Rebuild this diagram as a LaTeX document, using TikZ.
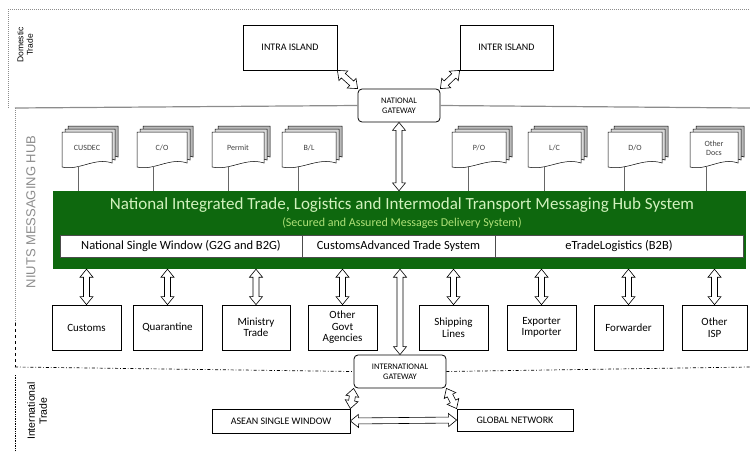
\documentclass[tikz,border=0pt]{standalone}
\usepackage{fontspec}
\setmainfont{Carlito}
\newfontfamily\arialfont{Liberation Sans}
\usetikzlibrary{calc}

\definecolor{hubgreen}{RGB}{14,104,14}
\definecolor{titlegreen}{RGB}{210,242,190}
\definecolor{subgreen}{RGB}{175,225,120}

% stacked document symbol: name, left x, right x, label
\newcommand\docstack[4]{%
  \foreach \o/\f in {6/gray!55,3/gray!30,0/white}{%
    \filldraw[fill=\f, draw=black, line width=0.5pt]
      ({#2+\o},{132-\o}) -- ({#3-6+\o},{132-\o}) -- ({#3-6+\o},{163-\o})
      .. controls ({#2+\o+0.65*(#3-6-#2)},{157-\o}) and ({#2+\o+0.35*(#3-6-#2)},{171-\o})
      .. ({#2+\o},{167-\o}) -- cycle;
  }
  \node[doctext] (#1) at ({(#2+#3-6)/2},148) {#4};
  \coordinate (#1-b) at ({#2+16},166);
}

% hollow two-headed block arrow between two points
\newcommand\harrow[2]{%
  \coordinate (ha-s) at (#1);
  \coordinate (ha-e) at (#2);
  \coordinate (ha-a) at ($(ha-s)!8pt!(ha-e)$);
  \coordinate (ha-b) at ($(ha-e)!8pt!(ha-s)$);
  \draw[harrowline] (ha-s) -- ($(ha-a)!6.5pt!90:(ha-e)$) -- ($(ha-a)!3pt!90:(ha-e)$)
    -- ($(ha-b)!3pt!-90:(ha-s)$) -- ($(ha-b)!6.5pt!-90:(ha-s)$) -- (ha-e)
    -- ($(ha-b)!6.5pt!90:(ha-s)$) -- ($(ha-b)!3pt!90:(ha-s)$)
    -- ($(ha-a)!3pt!-90:(ha-e)$) -- ($(ha-a)!6.5pt!-90:(ha-e)$) -- cycle;
}

\begin{document}
\begin{tikzpicture}[x=1pt,y=-1pt,
  box/.style={draw, line width=0.8pt, fill=white, inner sep=1pt, align=center, font=\fontsize{10}{11}\selectfont},
  gw/.style={box, rounded corners=4pt, font=\fontsize{8.5}{10}\selectfont},
  doctext/.style={align=center, inner sep=0pt, text=black!75, font=\fontsize{8}{9}\selectfont},
  seg/.style={draw=black!70, line width=0.5pt, fill=white, minimum height=22pt, inner sep=0pt, font=\fontsize{12.5}{13}\selectfont},
  harrowline/.style={draw=black, line width=0.6pt, fill=white, line join=miter},
  sidelabel/.style={rotate=90, align=center, font=\arialfont\fontsize{8.5}{9.5}\selectfont},
  feed/.style={draw=black!60, line width=0.5pt}
]
\useasboundingbox (0,0) rectangle (750,452);

% region borders
\draw[black!45, line width=1pt, densely dotted] (8,108) -- (8,10) -- (750,10);
\draw[black!45, line width=1pt, densely dotted] (15,108) -- (15,323);
\draw[black, line width=0.7pt, dashed] (15,323) -- (15,367);
\draw[black, line width=0.7pt, densely dotted] (15,375) -- (15,452);

% domestic trade
\node[sidelabel] (domlbl) at (25,45) {Domestic\\Trade};
\node[box, minimum width=94pt, minimum height=45pt] (intra) at (290,47.5) {INTRA ISLAND};
\node[box, minimum width=93pt, minimum height=45pt] (inter) at (506.5,47.5) {INTER ISLAND};
\node[gw, minimum width=82pt, minimum height=33pt] (natgw) at (399,105.5) {NATIONAL\\GATEWAY};
\draw[black!45, line width=1.2pt] (15,108) -- (natgw.west);
\draw[black!45, line width=1.2pt] (natgw.east) -- (750,108);
\harrow{intra.south east}{natgw.north west}
\harrow{inter.south west}{natgw.north east}

% messaging hub
\node[sidelabel, text=black!45, font=\arialfont\fontsize{13}{14}\selectfont] (hublbl) at (31,212) {NIUTS MESSAGING HUB};
\node[fill=hubgreen, minimum width=693pt, minimum height=78pt, inner sep=0pt] (hub) at (399.5,230) {};
\node[text=titlegreen, font=\fontsize{17}{18}\selectfont] (title) at (402,205)
  {National Integrated Trade, Logistics and Intermodal Transport Messaging Hub System};
\node[text=subgreen, font=\fontsize{12}{13}\selectfont] (subtitle) at (402,223)
  {(Secured and Assured Messages Delivery System)};
\node[seg, minimum width=242pt] (nsw) at (181,246) {National Single Window (G2G and B2G)};
\node[seg, minimum width=193pt] (cats) at (398.5,246) {CustomsAdvanced Trade System};
\node[seg, minimum width=248pt] (etl) at (619,246) {eTradeLogistics (B2B)};

% documents feeding the hub
\docstack{cusdec}{62}{118}{CUSDEC}
\docstack{co}{137}{193}{C/O}
\docstack{permit}{212}{270}{Permit}
\docstack{bl}{282}{342}{B/L}
\docstack{po}{452}{512}{P/O}
\docstack{lc}{528}{587}{L/C}
\docstack{do}{608}{668}{D/O}
\docstack{odocs}{690}{744}{Other\\Docs}
\foreach \d in {cusdec,co,permit,bl,po,lc,do,odocs}
  \draw[feed] (\d-b) -- (\d-b |- hub.north);

\harrow{natgw.south}{natgw.south |- hub.north}

% participants
\foreach \n/\x/\w/\t in {
  customs/86.5/69/Customs,
  quarantine/167.5/69/Quarantine,
  ministry/256/68/Ministry\\Trade,
  othergov/342.5/69/Other\\Govt\\Agencies,
  shipping/453.5/69/Shipping\\Lines,
  exporter/541.5/69/Exporter\\Importer,
  forwarder/628.5/69/Forwarder,
  otherisp/714.5/65/Other\\ISP}{
  \node[box, minimum width=\w pt, minimum height=45pt, font=\fontsize{11}{11.5}\selectfont] (\n) at (\x,327.5) {\t};
  \harrow{\n.north |- hub.south}{\n.north}
}

% international trade
\node[gw, minimum width=92pt, minimum height=33pt] (intgw) at (400,371.5) {INTERNATIONAL\\GATEWAY};
\draw[black, line width=0.7pt, dash dot] (15,367) -- (intgw.west);
\draw[black, line width=0.7pt, dash dot] (intgw.east) -- (750,367);
\harrow{intgw.north |- hub.south}{intgw.north}
\node[sidelabel, font=\arialfont\fontsize{10.5}{12}\selectfont] (intlbl) at (37,411) {International\\Trade};
\node[box, minimum width=138pt, minimum height=24pt, font=\fontsize{10}{11}\selectfont] (asean) at (281,421) {ASEAN SINGLE WINDOW};
\node[box, minimum width=116pt, minimum height=22pt, font=\fontsize{10}{11}\selectfont] (global) at (515,420) {GLOBAL NETWORK};
\harrow{intgw.south west}{asean.north east}
\harrow{intgw.south east}{global.north west}
\harrow{asean.east}{global.west}
\end{tikzpicture}
\end{document}
